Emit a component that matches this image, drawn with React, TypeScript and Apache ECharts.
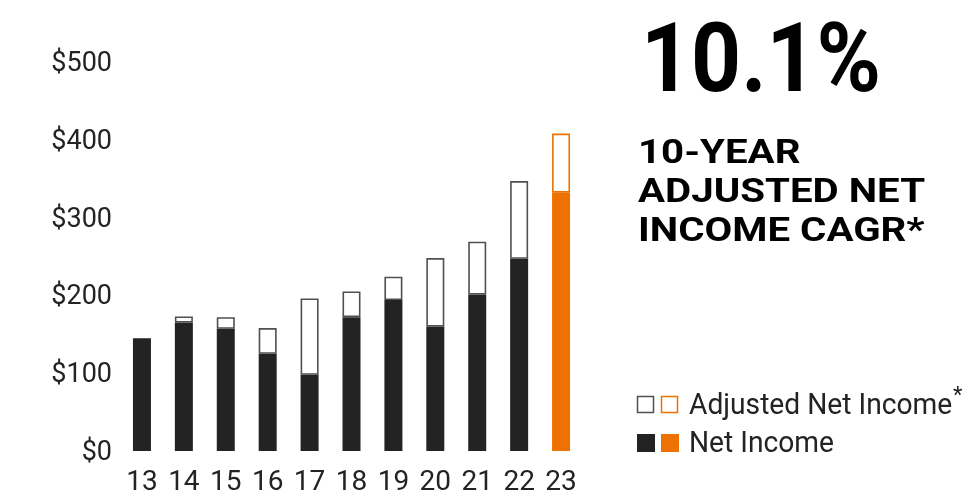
import React, { useEffect, useRef } from "react";
import * as echarts from "echarts";

const years = ["13", "14", "15", "16", "17", "18", "19", "20", "21", "22", "23"];
const netIncome = [145, 165, 157, 125, 98, 172, 194, 160, 201, 247, 332];
const adjustedNetIncome = [145, 173, 172, 158, 196, 205, 224, 248, 269, 347, 408];
const yTicks = [0, 100, 200, 300, 400, 500];

const DARK = "#232323";
const ORANGE = "#EE7203";
const OUTLINE = "#505050";
const FONT = "Roboto, 'Noto Sans', sans-serif";

export default function App() {
  const ref = useRef<HTMLDivElement>(null);
  useEffect(() => {
    if (!ref.current) return;
    const chart = echarts.init(ref.current, null, { renderer: "svg" });
    const last = years.length - 1;
    const netData = netIncome.map((v, i) => ({
      value: v,
      itemStyle: { color: i === last ? ORANGE : DARK },
    }));
    const diffData = adjustedNetIncome.map((v, i) => {
      const d = v - netIncome[i];
      return {
        value: d,
        itemStyle: {
          color: "#ffffff",
          borderColor: i === last ? ORANGE : OUTLINE,
          borderWidth: d > 0 ? 1.6 : 0,
        },
      };
    });
    const txt = (
      text: string,
      x: number,
      y: number,
      size: number,
      weight: string,
      fill: string,
      scaleX = 1
    ) => ({
      type: "text",
      x,
      y,
      scaleX,
      style: {
        text,
        fontSize: size,
        fontWeight: weight,
        fontFamily: FONT,
        fill,
        textAlign: "left",
        textVerticalAlign: "middle",
        verticalAlign: "middle",
      },
    });
    chart.setOption({
      animation: false,
      grid: { left: 121, width: 461, top: 62, height: 389, containLabel: false },
      xAxis: {
        type: "category",
        data: years,
        axisLine: { show: false },
        axisTick: { show: false },
        axisLabel: { fontSize: 28, fontFamily: FONT, color: DARK, margin: 15 },
      },
      yAxis: {
        type: "value",
        min: yTicks[0],
        max: yTicks[yTicks.length - 1],
        interval: 100,
        splitLine: { show: false },
        axisLine: { show: false },
        axisTick: { show: false },
        axisLabel: {
          fontSize: 27,
          fontFamily: FONT,
          color: DARK,
          margin: 9,
          formatter: (v: number) => "$" + v,
        },
      },
      series: [
        {
          name: "Net Income",
          type: "bar",
          stack: "total",
          barWidth: 18,
          data: netData,
        },
        {
          name: "Adjusted Net Income",
          type: "bar",
          stack: "total",
          barWidth: 18,
          data: diffData,
        },
      ],
      graphic: [
        txt("10.1%", 641, 58, 97, "bold", "#000000", 0.9),
        txt("10-YEAR", 638, 152, 33, "bold", "#000000", 1.22),
        txt("ADJUSTED NET", 638, 191, 33, "bold", "#000000", 1.22),
        txt("INCOME CAGR*", 638, 230, 33, "bold", "#000000", 1.22),
        {
          type: "rect",
          shape: { x: 637.5, y: 396.5, width: 16, height: 16 },
          style: { fill: "#ffffff", stroke: OUTLINE, lineWidth: 1.5 },
        },
        {
          type: "rect",
          shape: { x: 661.5, y: 396.5, width: 16, height: 16 },
          style: { fill: "#ffffff", stroke: ORANGE, lineWidth: 1.5 },
        },
        {
          type: "rect",
          shape: { x: 637, y: 434, width: 18, height: 18 },
          style: { fill: DARK },
        },
        {
          type: "rect",
          shape: { x: 661, y: 434, width: 18, height: 18 },
          style: { fill: ORANGE },
        },
        txt("Adjusted Net Income", 689, 404, 30, "normal", DARK, 0.94),
        txt("*", 953, 394, 22, "normal", DARK),
        txt("Net Income", 689, 442, 30, "normal", DARK, 0.94),
      ],
    });
    return () => chart.dispose();
  }, []);
  return (
    <div
      ref={ref}
      style={{ position: "fixed", left: 0, top: 0, width: 964, height: 497 }}
    />
  );
}
